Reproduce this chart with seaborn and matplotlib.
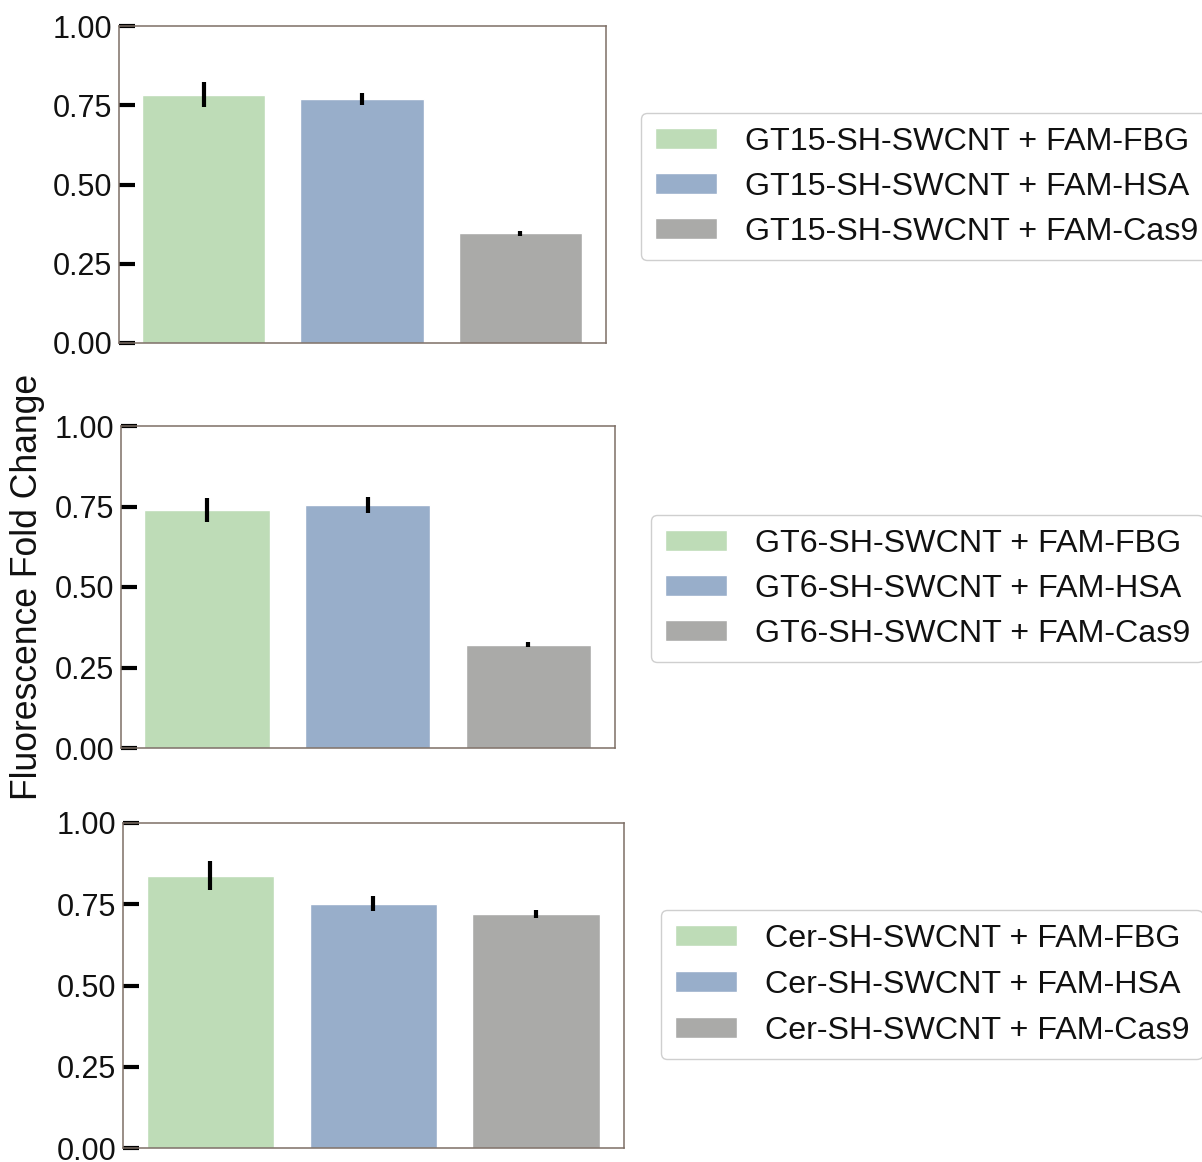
import numpy as np
import pandas as pd
import matplotlib
matplotlib.use("Agg")
import matplotlib.pyplot as plt
import seaborn as sns

# ---- data ----
proteins = ["FAM-FBG", "FAM-HSA", "FAM-Cas9"]
prefixes = ["GT15-SH-SWCNT", "GT6-SH-SWCNT", "Cer-SH-SWCNT"]
gt15_means = [0.783, 0.770, 0.346]
gt15_errs = [0.040, 0.020, 0.008]
gt6_means = [0.740, 0.754, 0.321]
gt6_errs = [0.037, 0.025, 0.008]
cer_means = [0.838, 0.752, 0.720]
cer_errs = [0.044, 0.024, 0.012]
yticks = [0.0, 0.25, 0.50, 0.75, 1.00]
ytick_labels = ["0.00", "0.25", "0.50", "0.75", "1.00"]
ylabel = "Fluorescence Fold Change"

palette = ["#BEDCB7", "#98AECA", "#AAAAA8"]

sns.set_style("white")
plt.rcParams["font.family"] = ["Liberation Sans", "DejaVu Sans"]

W, H = 1202, 1162
fig = plt.figure(figsize=(W / 100, H / 100), dpi=100)

# axes rectangles in pixels: left, top, right, bottom
rects = [(119, 26, 606, 343), (121, 426, 615, 748), (123, 823, 624, 1148)]
legend_pos = [(641, 113), (651, 515), (661, 910)]
all_means = [gt15_means, gt6_means, cer_means]
all_errs = [gt15_errs, gt6_errs, cer_errs]
label_spacing = [0.47, 0.47, 0.5]

for (l, t, r, b), (lx, ly), prefix, means, errs, ls in zip(rects, legend_pos, prefixes, all_means, all_errs, label_spacing):
    ax = fig.add_axes([l / W, 1 - b / H, (r - l) / W, (b - t) / H])
    df = pd.DataFrame({"protein": proteins, "value": means})
    sns.barplot(data=df, x="protein", y="value", hue="protein", order=proteins,
                hue_order=proteins, palette=palette, saturation=1, width=0.78,
                errorbar=None, legend=True, ax=ax)
    ax.errorbar(x=np.arange(len(proteins)), y=means, yerr=errs, fmt="none",
                ecolor="black", elinewidth=3.0, capsize=0, zorder=5)
    ax.set_xlim(-0.535, 2.54)
    ax.set_ylim(0, 1.0)
    ax.set_yticks(yticks)
    ax.set_yticklabels(ytick_labels)
    ax.set_xticks([])
    ax.set_xlabel("")
    ax.set_ylabel("")
    ax.tick_params(axis="y", which="major", left=True, direction="in",
                   length=11.5, width=3.0, color="black", labelsize=22,
                   pad=5, labelcolor="#111111")
    for sp in ax.spines.values():
        sp.set_visible(True)
        sp.set_color("#7d6f66")
        sp.set_linewidth(1.1)
    handles, _ = ax.get_legend_handles_labels()
    ax.legend(handles, [f"{prefix} + {p}" for p in proteins],
              loc="upper left", bbox_to_anchor=(lx / W, 1 - ly / H),
              bbox_transform=fig.transFigure, borderaxespad=0,
              fontsize=23.2, frameon=True, fancybox=True, edgecolor="#cfcfcf",
              framealpha=1, handlelength=1.95, handleheight=0.62,
              handletextpad=0.85, labelspacing=ls, borderpad=0.42,
              labelcolor="#111111")

fig.text(28 / W, 1 - 587 / H, ylabel, rotation=90, ha="center", va="center",
         fontsize=25.6, color="#111111")

fig.savefig("out.png", dpi=100)
